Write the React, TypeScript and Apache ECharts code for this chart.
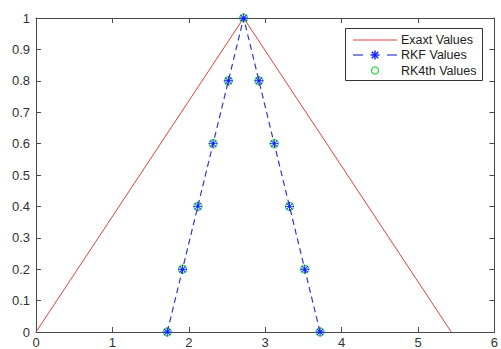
import React, { useEffect, useRef } from "react";
import * as echarts from "echarts";

const exactX = [0, 2.718, 5.436];
const exactY = [0, 1, 0];
const rkfX = [1.718, 1.918, 2.118, 2.318, 2.518, 2.718, 2.918, 3.118, 3.318, 3.518, 3.718];
const rkfY = [0, 0.2, 0.4, 0.6, 0.8, 1, 0.8, 0.6, 0.4, 0.2, 0];
const rk4X = [1.718, 1.918, 2.118, 2.318, 2.518, 2.718, 2.918, 3.118, 3.318, 3.518, 3.718];
const rk4Y = [0, 0.2, 0.4, 0.6, 0.8, 1, 0.8, 0.6, 0.4, 0.2, 0];
const seriesNames = ["Exaxt Values", "RKF Values", "RK4th Values"];

const STAR =
  "path://M9 0L11 0L11 20L9 20Z M0 9L20 9L20 11L0 11Z M3.7 2.3L17.7 16.3L16.3 17.7L2.3 3.7Z M2.3 16.3L16.3 2.3L17.7 3.7L3.7 17.7Z";

const AXIS_COLOR = "#4a4a4a";
const FONT = "Liberation Sans, Arial, sans-serif";
const RED = "#d9443f";
const BLUE_LINE = "#2e3cc4";
const BLUE_MARK = "#0a1eff";
const GREEN = "#33d94a";

function starLines(cx: number, cy: number, r: number) {
  const d = r * 0.72;
  const segs = [
    [cx - r, cy, cx + r, cy],
    [cx, cy - r, cx, cy + r],
    [cx - d, cy - d, cx + d, cy + d],
    [cx - d, cy + d, cx + d, cy - d],
  ];
  return segs.map(([x1, y1, x2, y2]) => ({
    type: "line",
    shape: { x1, y1, x2, y2 },
    style: { stroke: BLUE_MARK, lineWidth: 1.4 },
  }));
}

export default function App() {
  const ref = useRef<HTMLDivElement>(null);
  useEffect(() => {
    if (!ref.current) return;
    const chart = echarts.init(ref.current, undefined, { renderer: "svg" });
    const pair = (xs: number[], ys: number[]) => xs.map((x, i) => [x, ys[i]]);
    const axisCommon = {
      type: "value" as const,
      axisLine: { show: true, onZero: false, lineStyle: { color: AXIS_COLOR, width: 1 } },
      axisTick: { show: true, inside: true, length: 5, lineStyle: { color: AXIS_COLOR } },
      splitLine: { show: false },
    };
    const lx = 345;
    const ly = 28;
    const textStyle = { fill: "#222222", fontSize: 12.5, fontFamily: FONT, verticalAlign: "middle" as const };
    chart.setOption({
      animation: false,
      backgroundColor: "#ffffff",
      grid: { left: 36, right: 4, top: 18, bottom: 16, containLabel: false },
      xAxis: [
        {
          ...axisCommon,
          position: "bottom",
          min: 0,
          max: 6,
          interval: 1,
          axisLabel: { color: "#333333", fontSize: 13, fontFamily: FONT, margin: 4 },
        },
        { ...axisCommon, position: "top", min: 0, max: 6, interval: 1, axisLabel: { show: false } },
      ],
      yAxis: [
        {
          ...axisCommon,
          position: "left",
          min: 0,
          max: 1,
          interval: 0.1,
          axisLabel: {
            color: "#333333",
            fontSize: 13,
            fontFamily: FONT,
            margin: 6,
            formatter: (v: number) => String(Math.round(v * 10) / 10),
          },
        },
        { ...axisCommon, position: "right", min: 0, max: 1, interval: 0.1, axisLabel: { show: false } },
      ],
      graphic: [
        {
          type: "group",
          z: 100,
          children: [
            {
              type: "rect",
              shape: { x: lx + 0.5, y: ly + 0.5, width: 137, height: 52 },
              style: { fill: "#ffffff", stroke: "#333333", lineWidth: 1 },
            },
            { type: "line", shape: { x1: 353, y1: 40, x2: 397, y2: 40 }, style: { stroke: RED, lineWidth: 1 } },
            { type: "text", x: 401, y: 40, style: { ...textStyle, text: seriesNames[0] } },
            { type: "line", shape: { x1: 353, y1: 55, x2: 363, y2: 55 }, style: { stroke: BLUE_LINE, lineWidth: 1.2 } },
            { type: "line", shape: { x1: 387, y1: 55, x2: 397, y2: 55 }, style: { stroke: BLUE_LINE, lineWidth: 1.2 } },
            ...starLines(375, 55, 4.5),
            { type: "text", x: 401, y: 55, style: { ...textStyle, text: seriesNames[1] } },
            { type: "circle", shape: { cx: 375, cy: 70.5, r: 3.5 }, style: { fill: "none", stroke: GREEN, lineWidth: 1.3 } },
            { type: "text", x: 401, y: 70.5, style: { ...textStyle, text: seriesNames[2] } },
          ],
        },
      ],
      series: [
        {
          name: seriesNames[0],
          type: "line",
          data: pair(exactX, exactY),
          symbol: "none",
          lineStyle: { color: RED, width: 1 },
          itemStyle: { color: RED },
          z: 2,
        },
        {
          name: seriesNames[2],
          type: "scatter",
          data: pair(rk4X, rk4Y),
          symbol: "circle",
          symbolSize: 8,
          itemStyle: { color: "rgba(0,0,0,0)", borderColor: GREEN, borderWidth: 1.5 },
          z: 3,
        },
        {
          name: seriesNames[1],
          type: "line",
          data: pair(rkfX, rkfY),
          symbol: STAR,
          symbolSize: 9,
          showAllSymbol: true,
          lineStyle: { color: BLUE_LINE, width: 1.2, type: [6, 4] },
          itemStyle: { color: BLUE_MARK },
          z: 4,
        },
      ],
    });
    return () => chart.dispose();
  }, []);
  return <div ref={ref} style={{ width: 501, height: 349, position: "absolute", left: 0, top: 0 }} />;
}
